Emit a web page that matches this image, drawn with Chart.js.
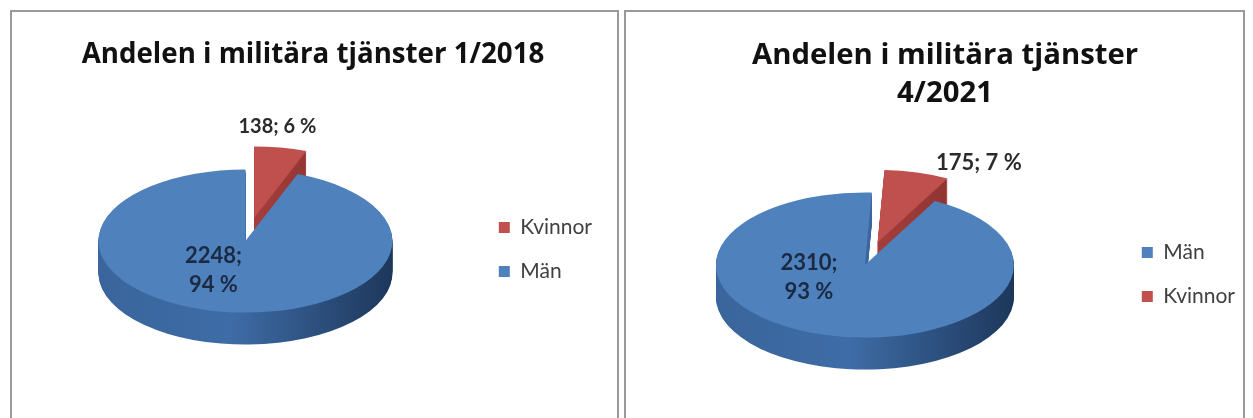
<!DOCTYPE html>
<html>
<head>
<meta charset="utf-8">
<script src="https://cdn.jsdelivr.net/npm/chart.js@4"></script>
<style>
  html, body { margin: 0; padding: 0; background: #fff; }
  body { width: 1253px; height: 418px; position: relative; overflow: hidden; }
  .panel { position: absolute; top: 10px; height: 412px; border: 2px solid #9a9a9a; border-bottom: none; background: #fff; overflow: hidden; }
  #p1 { left: 10px; width: 605px; }
  #p2 { left: 624px; width: 617px; }
  canvas { display: block; position: absolute; top: 0; }
  #pie2018 { left: 0; }
  #pie2021 { left: -15px; }
  .title { position: absolute; transform: translateX(-50%); white-space: nowrap; text-align: center;
           font-family: 'Open Sans', sans-serif; font-weight: bold; color: #111; line-height: 38px; }
  #t1 { left: 301px; top: 21px; font-size: 27.7px; }
  #t2 { left: 319px; top: 22px; font-size: 29.3px; }
</style>
</head>
<body>
<div class="panel" id="p1">
  <canvas id="pie2018" width="605" height="410"></canvas>
  <div class="title" id="t1"></div>
</div>
<div class="panel" id="p2">
  <canvas id="pie2021" width="632" height="410"></canvas>
  <div class="title" id="t2"></div>
</div>
<script>
// data
const categories2018 = ['Kvinnor', 'Män'];
const values2018 = [138, 2248];
const title2018 = ['Andelen i militära tjänster 1/2018'];

const categories2021 = ['Män', 'Kvinnor'];
const values2021 = [2310, 175];
const title2021 = ['Andelen i militära tjänster', '4/2021'];

const topColors = { 'Kvinnor': '#C0504D', 'Män': '#4F81BD' };
const sideColors = {
    'Kvinnor': ['#9a3a37', '#a8403d', '#7a2a28'],
    'Män': ['#3a659c', '#3e6ca6', '#1d375b']
};

Chart.defaults.font.family = 'Lato';
Chart.defaults.color = '#404040';

// fake 3D: squash the pie vertically and stack darker copies under it
const pie3d = {
    id: 'pie3d',
    beforeDatasetsDraw(chart, args, opts) {
        const ctx = chart.ctx;
        const arcs = chart.getDatasetMeta(0).data;
        const ds = chart.data.datasets[0];
        const cats = chart.data.labels;
        const total = ds.data.reduce((a, b) => a + b, 0);
        const cx = arcs[0].x, cy = arcs[0].y, r = arcs[0].outerRadius;
        const k = opts.tilt, depth = opts.depth;
        const mid = a => (a.startAngle + a.endAngle) / 2;
        const squash = dy => {
            ctx.translate(cx, cy + dy);
            ctx.scale(1, k);
            ctx.translate(-cx, -cy);
        };
        const order = arcs.map((a, i) => i)
            .sort((a, b) => Math.sin(mid(arcs[a])) - Math.sin(mid(arcs[b])));

        order.forEach(i => {
            const arc = arcs[i];
            const e = opts.explode[i] || 0;
            const ex = Math.cos(mid(arc)) * e, ey = Math.sin(mid(arc)) * e;
            const sc = sideColors[cats[i]];
            const g = ctx.createLinearGradient(cx - r, 0, cx + r, 0);
            g.addColorStop(0, sc[0]);
            g.addColorStop(0.45, sc[1]);
            g.addColorStop(1, sc[2]);
            for (let d = depth; d >= 1; d--) {
                ctx.save();
                squash(d);
                ctx.translate(ex, ey);
                ctx.beginPath();
                ctx.moveTo(arc.x, arc.y);
                ctx.arc(arc.x, arc.y, arc.outerRadius, arc.startAngle, arc.endAngle);
                ctx.closePath();
                ctx.fillStyle = g;
                ctx.fill();
                ctx.restore();
            }
            ctx.save();
            squash(0);
            ctx.translate(ex, ey);
            arc.draw(ctx);
            ctx.restore();
        });

        // data labels "value; pct %"
        ctx.save();
        ctx.textAlign = 'center';
        ctx.textBaseline = 'middle';
        arcs.forEach((arc, i) => {
            const v = ds.data[i];
            const pct = Math.round(v / total * 100) + ' %';
            const off = opts.labelOffsets[i];
            const x = cx + off[0], y = cy + off[1];
            if (arc.circumference > Math.PI) {
                ctx.font = 'bold 22px Lato';
                ctx.fillStyle = '#1b2a42';
                ctx.fillText(v + ';', x, y - 14);
                ctx.fillText(pct, x, y + 15);
            } else {
                ctx.font = 'bold ' + opts.outerSize + 'px Lato';
                ctx.fillStyle = '#2b2b2b';
                ctx.fillText(v + '; ' + pct, x, y);
            }
        });
        ctx.restore();
        return false;
    }
};

function makePie(id, titleId, title, cats, vals, cfg) {
    document.getElementById(titleId).innerHTML = title.join('<br>');
    return new Chart(document.getElementById(id), {
        type: 'pie',
        data: {
            labels: cats,
            datasets: [{
                data: vals,
                backgroundColor: cats.map(c => topColors[c]),
                borderWidth: 0,
                radius: cfg.radius
            }]
        },
        options: {
            responsive: false,
            animation: false,
            rotation: cfg.rotation,
            layout: { padding: cfg.pad },
            plugins: {
                tooltip: { enabled: false },
                title: { display: false },
                legend: {
                    position: 'right',
                    title: {
                        display: true,
                        text: '',
                        font: { size: 1, lineHeight: 1 },
                        padding: { top: 0, bottom: cfg.legendDrop }
                    },
                    labels: {
                        boxWidth: 11,
                        boxHeight: 11,
                        padding: 23,
                        color: '#404040',
                        font: { size: 21 }
                    }
                },
                pie3d: {
                    tilt: 0.487,
                    depth: 32,
                    explode: cats.map(c => c === 'Kvinnor' ? 48 : 0),
                    labelOffsets: cfg.labels,
                    outerSize: cfg.outerSize
                }
            }
        },
        plugins: [pie3d]
    });
}

makePie('pie2018', 't1', title2018, categories2018, values2018, {
    rotation: 0, radius: 147,
    pad: { left: 3, right: 15, top: 60, bottom: 12 },
    legendDrop: 16,
    labels: [[32, -114], [-32, 29]], outerSize: 20
});

makePie('pie2021', 't2', title2021, categories2021, values2021, {
    rotation: 28, radius: 149,
    pad: { left: 0, right: -2, top: 100, bottom: 4 },
    legendDrop: 18,
    labels: [[-56, 12], [114, -102]], outerSize: 22
});
</script>
</body>
</html>
